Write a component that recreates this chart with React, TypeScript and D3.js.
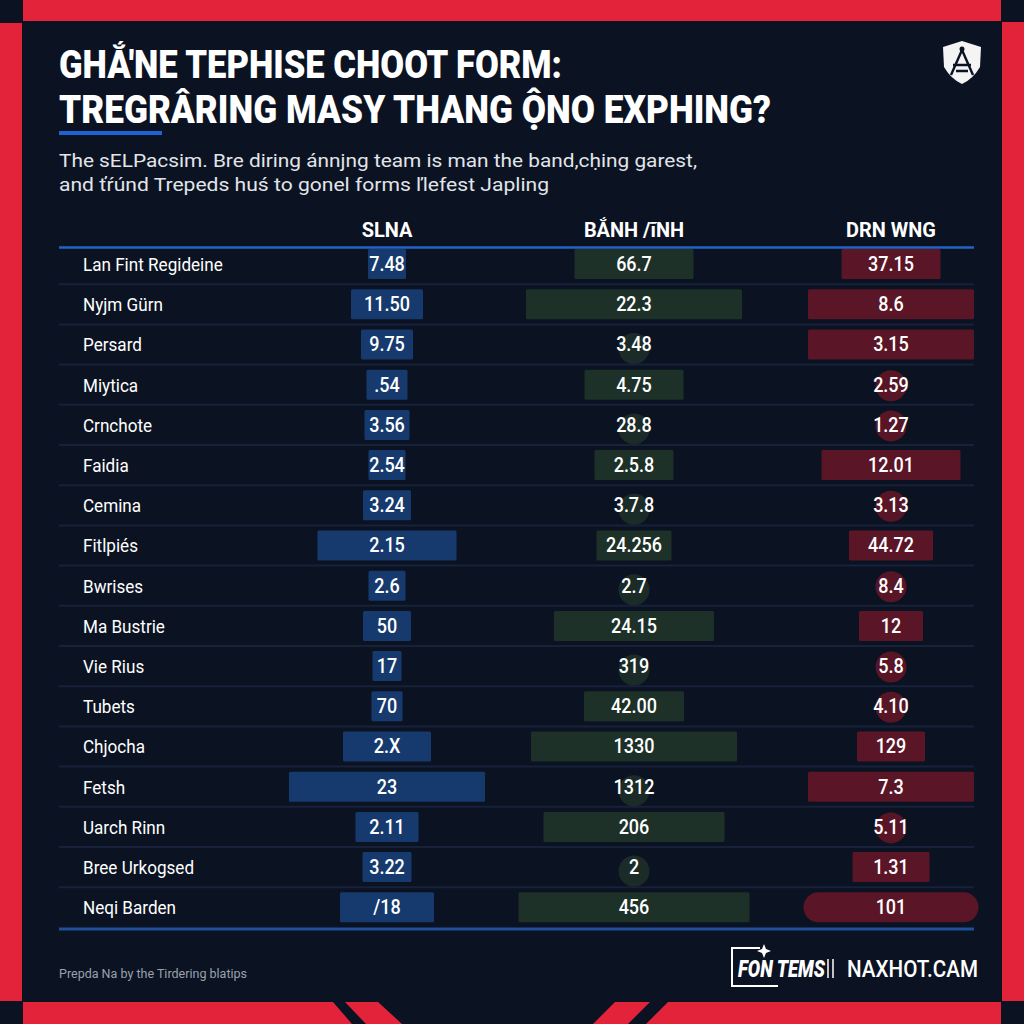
import React from "react";
import * as d3 from "d3";

const rowLabels = [
  "Lan Fint Regideine", "Nyjm Gürn", "Persard", "Miytica", "Crnchote", "Faidia",
  "Cemina", "Fitlpiés", "Bwrises", "Ma Bustrie", "Vie Rius", "Tubets", "Chjocha",
  "Fetsh", "Uarch Rinn", "Bree Urkogsed", "Neqi Barden",
];
const columnLabels = ["SLNA", "BẮNH /ĩNH", "DRN WNG"];

const slnaText = ["7.48", "11.50", "9.75", ".54", "3.56", "2.54", "3.24", "2.15", "2.6", "50", "17", "70", "2.X", "23", "2.11", "3.22", "/18"];
const banhText = ["66.7", "22.3", "3.48", "4.75", "28.8", "2.5.8", "3.7.8", "24.256", "2.7", "24.15", "319", "42.00", "1330", "1312", "206", "2", "456"];
const drnText = ["37.15", "8.6", "3.15", "2.59", "1.27", "12.01", "3.13", "44.72", "8.4", "12", "5.8", "4.10", "129", "7.3", "5.11", "1.31", "101"];

// bar magnitudes (0 = marker dot instead of bar)
const slnaBar = [19, 36, 26, 20.5, 22.5, 18.5, 24, 69.5, 18.5, 24, 14.5, 15.5, 44, 98, 31.5, 24.5, 47];
const banhBar = [59.5, 108, 0, 49.5, 0, 39.5, 0, 37.5, 0, 80, 0, 50, 103, 0, 90.5, 0, 115.5];
const drnBar = [49.5, 83, 83, 0, 0, 69.5, 0, 42, 0, 32, 0, 0, 34, 83, 0, 38.5, 87.5];
const pillRows = [16];

const title1 = "GHẮ'NE TEPHISE CHOOT FORM:";
const title2 = "TREGRÂRING MASY THANG ỘNO EXPHING?";
const sub1 = "The sELPacsim. Bre diring ánnjng team is man the band,cḥing garest,";
const sub2 = "and ťŕúnd Trepeds huś to gonel forms ľlefest Japling";
const footNote = "Prepda Na by the Tirdering blatips";

const BG = "#0b1322";
const RED = "#e2233a";
const FONT = "Roboto, 'Noto Sans', sans-serif";

export default function App() {
  const y = d3.scaleBand<string>().domain(rowLabels).range([244, 927.4]).padding(0);
  const colX = d3.scaleOrdinal<string, number>().domain(columnLabels).range([387, 634, 891]);
  const w = d3.scaleLinear().domain([0, 100]).range([0, 200]);
  const bh = 30;

  const columns = [
    { key: columnLabels[0], text: slnaText, bars: slnaBar, fill: "#163a6d", dot: "#163a6d", dotDy: 0 },
    { key: columnLabels[1], text: banhText, bars: banhBar, fill: "#1d3129", dot: "#1b2c28", dotDy: 4 },
    { key: columnLabels[2], text: drnText, bars: drnBar, fill: "#5a1526", dot: "#581526", dotDy: 1 },
  ];

  const bw = y.bandwidth();

  return (
    <svg width={1024} height={1024} style={{ position: "absolute", left: 0, top: 0, display: "block" }}>
      <rect x={0} y={0} width={1024} height={1024} fill={BG} />
      {/* red frame */}
      <rect x={23} y={0} width={978} height={21} fill={RED} />
      <rect x={0} y={23} width={22} height={978} fill={RED} />
      <rect x={1002} y={22} width={22} height={979} fill={RED} />
      <polygon points="23,1002 333,1002 352,1024 23,1024" fill={RED} />
      <polygon points="345,1002 378,1002 402,1024 366,1024" fill={RED} />
      <polygon points="615,1002 650,1002 628,1024 593,1024" fill={RED} />
      <polygon points="668,1002 1001,1002 1001,1024 646,1024" fill={RED} />

      {/* title */}
      <text x={59} y={78} fill="#fff" fontFamily={FONT} fontWeight={900} fontSize={39}
        textLength={503} lengthAdjust="spacingAndGlyphs">{title1}</text>
      <text x={59} y={123} fill="#fff" fontFamily={FONT} fontWeight={900} fontSize={39}
        textLength={712} lengthAdjust="spacingAndGlyphs">{title2}</text>
      <rect x={59} y={131} width={103} height={4} fill="#1f62d2" />
      <text x={59} y={167} fill="#e2e5ea" fontFamily={FONT} fontSize={19}
        textLength={638} lengthAdjust="spacingAndGlyphs">{sub1}</text>
      <text x={59} y={191} fill="#e2e5ea" fontFamily={FONT} fontSize={19}
        textLength={490} lengthAdjust="spacingAndGlyphs">{sub2}</text>

      {/* shield logo */}
      <g>
        <path d="M943,47 L962,41 L981,47 L980,67 Q973,79 962,84 Q951,79 944,67 Z" fill="#f4f4f4" />
        <path d="M962,50 L951,75 M962,50 L973,75 M953,65 L971,65 M956,71 L968,71" stroke="#0b1322" strokeWidth={2.4} fill="none" />
        <circle cx={962} cy={49} r={2.5} fill="#0b1322" />
      </g>

      {/* headers */}
      {columnLabels.map((c) => (
        <text key={c} x={colX(c)} y={237} textAnchor="middle" fill="#fff" fontFamily={FONT}
          fontWeight={700} fontSize={21}
          transform={`translate(${colX(c)},0) scale(0.95,1) translate(${-colX(c)},0)`}>{c}</text>
      ))}

      {/* separators */}
      {rowLabels.slice(1).map((r) => (
        <line key={r} x1={59} x2={974} y1={y(r)} y2={y(r)} stroke="#17213a" strokeWidth={2} />
      ))}
      <line x1={59} x2={974} y1={247.5} y2={247.5} stroke="#2463c4" strokeWidth={2.5} />
      <line x1={59} x2={974} y1={929} y2={929} stroke="#1e4f98" strokeWidth={3} />

      {/* cells */}
      {columns.map((col) => (
        <g key={col.key}>
          {rowLabels.map((r, i) => {
            const cx = colX(col.key);
            const cy = (y(r) as number) + bw / 2;
            const v = col.bars[i];
            let shape;
            if (v > 0) {
              const width = w(v);
              const pill = col.key === columnLabels[2] && pillRows.includes(i);
              shape = (
                <rect x={cx - width / 2} y={cy - bh / 2} width={width} height={bh}
                  rx={pill ? bh / 2 : 1.5} fill={col.fill} />
              );
            } else {
              shape = <circle cx={cx} cy={cy + col.dotDy} r={15.5} fill={col.dot} />;
            }
            return (
              <g key={r}>
                {shape}
                <text x={cx} y={cy + 7} textAnchor="middle" fill="#fff" fontFamily={FONT}
                  fontWeight={500} fontSize={20}
                  transform={`translate(${cx},0) scale(0.9,1) translate(${-cx},0)`}>{col.text[i]}</text>
              </g>
            );
          })}
        </g>
      ))}

      {/* row labels */}
      {rowLabels.map((r) => {
        const cy = (y(r) as number) + bw / 2;
        return (
          <text key={r} x={83} y={cy + 7} fill="#fff" fontFamily={FONT} fontSize={19}
            transform={`translate(83,0) scale(0.9,1) translate(-83,0)`}>{r}</text>
        );
      })}

      {/* footer */}
      <text x={59} y={978} fill="#9aa1ad" fontFamily={FONT} fontSize={12.5}
        textLength={188} lengthAdjust="spacingAndGlyphs">{footNote}</text>
      <g>
        <path d="M760,948 L732,948 L732,986 L778,986" stroke="#fff" strokeWidth={2} fill="none" />
        <path d="M764,944 L766,949 L771,951 L766,953 L764,958 L762,953 L757,951 L762,949 Z" fill="#fff" />
        <text x={738} y={977} fill="#fff" fontFamily={FONT} fontWeight={900} fontStyle="italic" fontSize={23}
          textLength={87} lengthAdjust="spacingAndGlyphs">FON TEMS</text>
        <line x1={828} x2={828} y1={959} y2={978} stroke="#fff" strokeWidth={1.5} />
        <line x1={833} x2={833} y1={959} y2={978} stroke="#fff" strokeWidth={1.5} />
        <text x={847} y={977} fill="#fff" fontFamily={FONT} fontWeight={500} fontSize={23}
          textLength={131} lengthAdjust="spacingAndGlyphs">NAXHOT.CAM</text>
      </g>
    </svg>
  );
}
